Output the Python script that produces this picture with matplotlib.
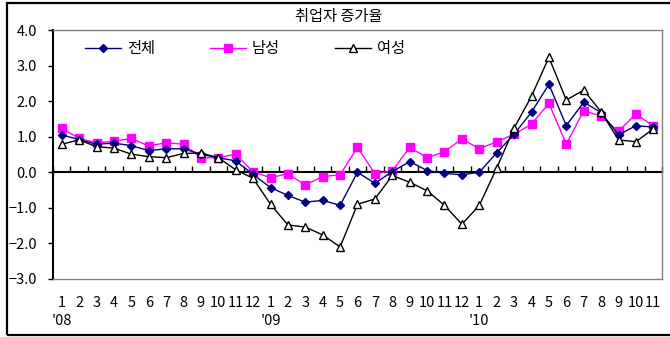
import matplotlib
matplotlib.use("Agg")
import matplotlib.pyplot as plt
import matplotlib.patches as mpatches

plt.rcParams['font.family'] = ['Noto Sans CJK KR', 'DejaVu Sans']
plt.rcParams['axes.unicode_minus'] = True

title = "취업자 증가율"
months = ['1', '2', '3', '4', '5', '6', '7', '8', '9', '10', '11', '12',
          '1', '2', '3', '4', '5', '6', '7', '8', '9', '10', '11', '12',
          '1', '2', '3', '4', '5', '6', '7', '8', '9', '10', '11']
years = ["'08", "'09", "'10"]
year_start_idx = [0, 12, 24]

total = [1.05, 0.92, 0.79, 0.82, 0.75, 0.61, 0.66, 0.66, 0.51, 0.41, 0.32, -0.06,
         -0.43, -0.65, -0.84, -0.79, -0.93, 0.0, -0.31, 0.02, 0.30, 0.05, -0.03, -0.07,
         0.0, 0.55, 1.07, 1.69, 2.47, 1.31, 1.97, 1.68, 1.05, 1.31, 1.27]
male = [1.24, 0.95, 0.83, 0.87, 0.95, 0.74, 0.83, 0.79, 0.41, 0.41, 0.51, 0.01,
        -0.15, -0.04, -0.36, -0.12, -0.07, 0.70, -0.04, 0.04, 0.70, 0.41, 0.58, 0.94,
        0.66, 0.86, 1.07, 1.35, 1.94, 0.79, 1.73, 1.58, 1.15, 1.64, 1.30]
female = [0.79, 0.91, 0.72, 0.68, 0.51, 0.44, 0.41, 0.53, 0.54, 0.41, 0.07, -0.17,
          -0.90, -1.48, -1.54, -1.76, -2.10, -0.90, -0.75, -0.09, -0.28, -0.52, -0.93, -1.46,
          -0.93, 0.12, 1.24, 2.14, 3.23, 2.03, 2.31, 1.70, 0.91, 0.86, 1.22]

labels = ['전체', '남성', '여성']

fig = plt.figure(figsize=(6.7, 3.37), dpi=100)
ax = fig.add_axes([53/670, 1 - 279/337, 609/670, 249/337])

x = list(range(len(months)))
ax.plot(x, total, color='#000080', lw=1.0, marker='D', ms=4.5,
        mfc='#000080', mec='#000080', label=labels[0], zorder=4)
ax.plot(x, male, color='#FF00FF', lw=1.0, marker='s', ms=6,
        mfc='#FF00FF', mec='#FF00FF', label=labels[1], zorder=3)
ax.plot(x, female, color='black', lw=1.0, marker='^', ms=5.5,
        mfc='white', mec='black', mew=1.0, label=labels[2], zorder=5)

ax.set_xlim(-0.5, len(months) - 0.5)
ax.set_ylim(-3, 4)
ax.set_yticks(range(-3, 5))
ax.set_yticklabels([f"{v:.1f}".replace('-', '\u2212') for v in range(-3, 5)],
                   fontsize=10.5)
ax.tick_params(axis='y', direction='out', length=3.5, width=1.0, pad=8,
               colors='black')

ax.set_xticks(x)
ax.set_xticklabels(months, fontsize=10.5)
ax.tick_params(axis='x', length=0, pad=12)

for i, yl in zip(year_start_idx, years):
    ax.text(i, -0.17, yl, transform=ax.get_xaxis_transform(),
            ha='center', va='center', fontsize=10.5)

for side in ['top', 'right', 'bottom']:
    ax.spines[side].set_color('#808080')
    ax.spines[side].set_linewidth(1.0)
ax.spines['left'].set_color('black')
ax.spines['left'].set_linewidth(1.5)

# category axis crossing at zero with boundary ticks pointing up
zero_frac = (0 - (-3)) / 7
sec = ax.secondary_xaxis(zero_frac)
sec.set_xticks([i + 0.5 for i in range(-1, len(months))])
sec.tick_params(axis='x', direction='in', length=4, width=1.0,
                labelbottom=False, labeltop=False, colors='black')
sec.spines['bottom'].set_linewidth(1.5)
sec.spines['bottom'].set_color('black')

ax.legend(loc='center left', bbox_to_anchor=(0.052, 0.925), ncol=3,
          frameon=False, fontsize=11, handlelength=2.4, handletextpad=0.35,
          columnspacing=3.6, borderpad=0, borderaxespad=0)

fig.text(339/670, 1 - 16/337, title, ha='center', va='center', fontsize=11)

border = mpatches.Rectangle((7/670, 2/337), 1.0, 332/337, transform=fig.transFigure,
                            fill=False, edgecolor='black', lw=1.6, clip_on=False)
fig.patches.append(border)

fig.savefig('out.png', dpi=100)
